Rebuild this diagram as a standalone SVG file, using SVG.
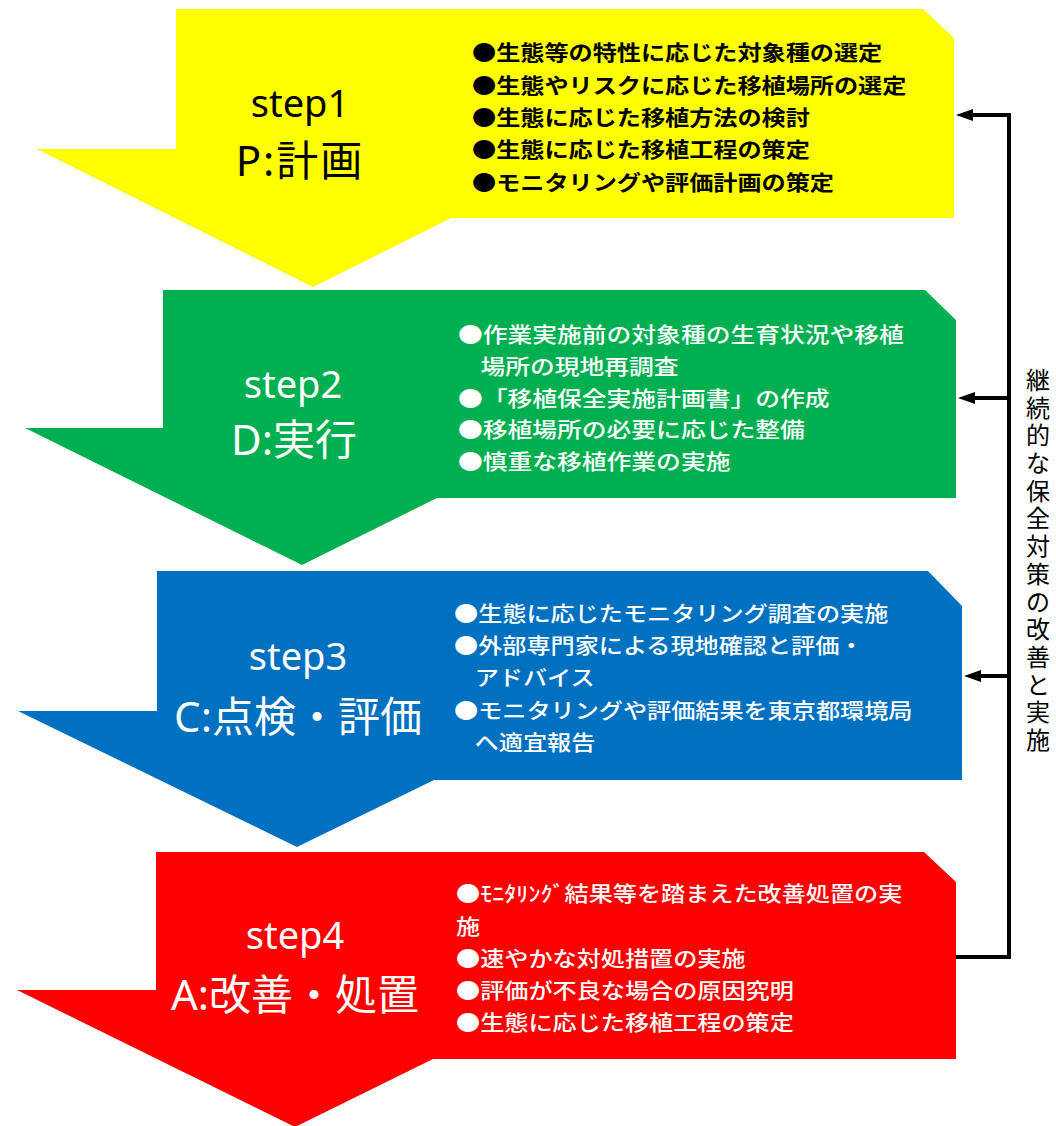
<svg xmlns="http://www.w3.org/2000/svg" width="1056" height="1126" viewBox="0 0 1056 1126">
<style>
.step{font-family:"Noto Sans","Noto Sans CJK JP",sans-serif;text-anchor:middle;font-weight:normal}
.s1{font-size:38px}
.s2{font-size:42px}
.bl{font-family:"Noto Sans CJK JP",sans-serif;font-size:21px}
.dark{fill:#000}
.light{fill:#fff}
.wb{font-weight:500}
.bold{font-weight:bold}
.conn{fill:none;stroke:#000;stroke-width:4;stroke-linejoin:miter}
.side{font-family:"Noto Sans CJK JP",sans-serif;font-size:24px;fill:#000;text-anchor:middle}
</style>
<defs>
<marker id="ah" viewBox="0 0 17 12" markerWidth="17" markerHeight="12" refX="1" refY="6" orient="auto" markerUnits="userSpaceOnUse">
<path d="M0,0 L17,6 L0,12 z" fill="#000"/>
</marker>
</defs>
<rect width="1056" height="1126" fill="#fff"/>

<g id="step1">
<polygon points="176,9 923,9 954,38 954,218 451,218 313,287 37,149 176,149" fill="#FFFF00"/>
<text class="step s1 dark" x="300" y="117">step1</text>
<text class="step s2 dark" x="300" y="176" letter-spacing="2">P:計画</text>
<g transform="translate(472 0) scale(1.15 1)">
<text class="bl dark bold" x="0" y="60">●生態等の特性に応じた対象種の選定</text>
<text class="bl dark bold" x="0" y="93">●生態やリスクに応じた移植場所の選定</text>
<text class="bl dark bold" x="0" y="125">●生態に応じた移植方法の検討</text>
<text class="bl dark bold" x="0" y="157">●生態に応じた移植工程の策定</text>
<text class="bl dark bold" x="0" y="190">●モニタリングや評価計画の策定</text>
</g>
</g>

<g id="step2">
<polygon points="163,290 925,290 956,320 956,498 437,498 302,565 25,428 163,428" fill="#00B050"/>
<text class="step s1 light" x="293" y="398">step2</text>
<text class="step s2 light" x="294" y="455">D:実行</text>
<g transform="translate(458 0) scale(1.18 1)">
<text class="bl light wb" x="0" y="342">●作業実施前の対象種の生育状況や移植</text>
<text class="bl light wb" x="19" y="374">場所の現地再調査</text>
<text class="bl light wb" x="0" y="406">●「移植保全実施計画書」の作成</text>
<text class="bl light wb" x="0" y="437">●移植場所の必要に応じた整備</text>
<text class="bl light wb" x="0" y="469">●慎重な移植作業の実施</text>
</g>
</g>

<g id="step3">
<polygon points="157,571 928,571 962,606 962,780 434,780 297,847 18,711 157,711" fill="#0070C0"/>
<text class="step s1 light" x="298" y="670">step3</text>
<text class="step s2 light" x="298" y="732">C:点検・評価</text>
<g transform="translate(454 0) scale(1.15 1)">
<text class="bl light wb" x="0" y="621">●生態に応じたモニタリング調査の実施</text>
<text class="bl light wb" x="0" y="653">●外部専門家による現地確認と評価・</text>
<text class="bl light wb" x="18" y="685">アドバイス</text>
<text class="bl light wb" x="0" y="718">●モニタリングや評価結果を東京都環境局</text>
<text class="bl light wb" x="18" y="750">へ適宜報告</text>
</g>
</g>

<g id="step4">
<polygon points="156,852 924,852 956,882 956,1059 433,1059 295,1127 17,990 156,990" fill="#FF0000"/>
<text class="step s1 light" x="295" y="949">step4</text>
<text class="step s2 light" x="295" y="1010">A:改善・処置</text>
<g transform="translate(456 0) scale(1.15 1)">
<text class="bl light wb" x="0" y="901">●ﾓﾆﾀﾘﾝｸﾞ結果等を踏まえた改善処置の実</text>
<text class="bl light wb" x="0" y="934">施</text>
<text class="bl light wb" x="0" y="966">●速やかな対処措置の実施</text>
<text class="bl light wb" x="0" y="998">●評価が不良な場合の原因究明</text>
<text class="bl light wb" x="0" y="1030">●生態に応じた移植工程の策定</text>
</g>
</g>

<g id="connectors">
<path class="conn" d="M956 957 H1009 V115 H972" marker-end="url(#ah)"/>
<path class="conn" d="M1009 398 H974" marker-end="url(#ah)"/>
<path class="conn" d="M1009 676 H980" marker-end="url(#ah)"/>
</g>

<g id="side-label">
<text class="side" x="1038 1038 1038 1038 1038 1038 1038 1038 1038 1038 1038 1038 1038 1038" y="389 417 444 472 500 527 555 583 611 638 666 694 721 749">継続的な保全対策の改善と実施</text>
</g>
</svg>
